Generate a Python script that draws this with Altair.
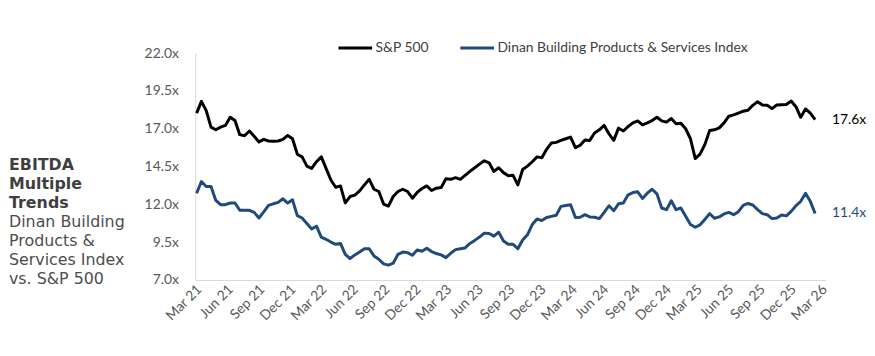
import altair as alt
import pandas as pd

series_names = ["S&P 500", "Dinan Building Products & Services Index"]
series_colors = ["#000000", "#1F4A7C"]

# biweekly observations starting 2021-03-05
start_date = "2021-03-05"
step_days = 14

sp500 = [
    18.03, 18.81, 18.20, 17.11, 16.93, 17.11, 17.22, 17.76, 17.54, 16.61, 16.54,
    16.85, 16.50, 16.13, 16.30, 16.19, 16.17, 16.19, 16.30, 16.56, 16.34, 15.32,
    15.14, 14.53, 14.38, 14.82, 15.14, 14.38, 13.61, 13.13, 13.22, 12.10, 12.52,
    12.61, 12.89, 13.29, 13.66, 13.00, 12.85, 12.02, 11.89, 12.52, 12.85, 13.00, 12.85,
    12.41, 12.79, 13.05, 13.22, 12.92, 13.07, 13.11, 13.70, 13.66, 13.77, 13.66,
    13.92, 14.18, 14.42, 14.66, 14.88, 14.75, 14.18, 14.42, 14.10, 13.90,
    13.92, 13.29, 14.31, 14.53, 14.82, 15.14, 15.08, 15.64, 16.06, 16.10, 16.23,
    16.34, 16.45, 15.75, 15.91, 16.26, 16.23, 16.72, 16.93, 17.22, 16.67, 16.23,
    17.04, 16.85, 17.15, 17.39, 17.52, 17.26, 17.39, 17.54, 17.76, 17.52, 17.44,
    17.68, 17.33, 17.37, 17.00, 16.34, 15.03, 15.32, 15.95, 16.89, 16.93, 17.06,
    17.39, 17.83, 17.92, 18.03, 18.16, 18.22, 18.55, 18.79, 18.57, 18.55, 18.33,
    18.57, 18.59, 18.61, 18.83, 18.46, 17.76, 18.31, 18.03, 17.60,
]

dinan = [
    12.74, 13.51, 13.18, 13.18, 12.26, 11.98, 11.98, 12.09, 12.09, 11.61, 11.61,
    11.61, 11.47, 11.10, 11.50, 11.93, 12.04, 12.13, 12.37, 12.09, 12.30, 11.26,
    11.10, 10.73, 10.38, 10.56, 9.84, 9.69, 9.51, 9.36, 9.42, 8.70, 8.42,
    8.66, 8.85, 9.07, 9.07, 8.59, 8.37, 8.07, 7.98, 8.11, 8.70, 8.85, 8.81,
    8.64, 8.99, 8.90, 9.10, 8.88, 8.75, 8.66, 8.48, 8.77, 9.01, 9.07,
    9.12, 9.42, 9.62, 9.84, 10.10, 10.08, 9.90, 10.16, 9.58, 9.36,
    9.36, 9.07, 9.64, 9.99, 10.67, 11.04, 10.93, 11.13, 11.21, 11.28, 11.87,
    11.93, 11.98, 11.13, 11.15, 11.32, 11.17, 11.15, 11.06, 11.47, 11.91, 11.58,
    12.04, 12.09, 12.63, 12.78, 12.83, 12.39, 12.74, 13.00, 12.70, 11.76, 11.65,
    12.24, 11.65, 11.76, 11.21, 10.67, 10.49, 10.65, 11.00, 11.39, 11.08, 11.17,
    11.37, 11.47, 11.32, 11.52, 11.93, 12.06, 11.96, 11.65, 11.39, 11.32, 11.06,
    11.10, 11.30, 11.24, 11.54, 11.91, 12.20, 12.74, 12.20, 11.40,
]

y_ticks = [7.0, 9.5, 12.0, 14.5, 17.0, 19.5, 22.0]
x_tick_months = [
    (2021, 3), (2021, 6), (2021, 9), (2021, 12),
    (2022, 3), (2022, 6), (2022, 9), (2022, 12),
    (2023, 3), (2023, 6), (2023, 9), (2023, 12),
    (2024, 3), (2024, 6), (2024, 9), (2024, 12),
    (2025, 3), (2025, 6), (2025, 9), (2025, 12),
    (2026, 3),
]
x_domain = [(2021, 3, 1), (2026, 3, 15)]

title_bold = ["EBITDA", "Multiple", "Trends"]
title_regular = ["Dinan Building", "Products &", "Services Index", "vs. S&P 500"]

dates = pd.date_range(start_date, periods=len(sp500), freq=f"{step_days}D")
df = pd.concat([
    pd.DataFrame({"date": dates, "value": sp500, "series": series_names[0]}),
    pd.DataFrame({"date": dates, "value": dinan, "series": series_names[1]}),
])
ends = pd.DataFrame({
    "date": [dates[-1], dates[-1]],
    "value": [sp500[-1], dinan[-1]],
    "series": series_names,
})

AX_FONT = "Lato"
TITLE_FONT = "DejaVu Sans"
x_scale = alt.Scale(domain=[alt.DateTime(year=y, month=m, date=d) for (y, m, d) in x_domain])
y_scale = alt.Scale(domain=[7, 22], nice=False, zero=False)
color_scale = alt.Scale(domain=series_names, range=series_colors)

x_enc = alt.X(
    "date:T", scale=x_scale, title=None,
    axis=alt.Axis(
        values=[alt.DateTime(year=y, month=m, date=1) for (y, m) in x_tick_months],
        tickCount=len(x_tick_months) + 5,
        format="%b %y", labelAngle=-45, labelAlign="right", labelBaseline="middle",
        labelPadding=7, labelOffset=4, ticks=False, grid=False, domainColor="#d9d9d9",
        labelFont=AX_FONT, labelFontSize=14, labelColor="#595959", labelOverlap=False,
    ),
)
y_enc = alt.Y(
    "value:Q", scale=y_scale, title=None,
    axis=alt.Axis(
        values=y_ticks, tickCount=len(y_ticks) + 5, labelOverlap=False,
        labelExpr="format(datum.value, '.1f') + 'x'",
        ticks=False, grid=False, domainColor="#d9d9d9", labelPadding=17,
        labelFont=AX_FONT, labelFontSize=14, labelColor="#595959",
    ),
)

lines = alt.Chart(df).mark_line(strokeWidth=3, strokeJoin="round").encode(
    x=x_enc, y=y_enc,
    color=alt.Color(
        "series:N", scale=color_scale,
        legend=alt.Legend(
            orient="none", legendX=143, legendY=-24, direction="horizontal", title=None,
            symbolType="stroke", symbolSize=1156, symbolStrokeWidth=3,
            labelFont=AX_FONT, labelFontSize=14, labelColor="#404040",
            labelOffset=2, columnPadding=25, labelLimit=400,
        ),
    ),
    detail="series:N",
)

end_labels = alt.Chart(ends).transform_calculate(
    label="format(datum.value, '.1f') + 'x'"
).mark_text(align="left", baseline="middle", dx=17, font=AX_FONT, fontSize=14).encode(
    x=alt.X("date:T", scale=x_scale),
    y=alt.Y("value:Q", scale=y_scale),
    text="label:N",
    color=alt.Color("series:N", scale=color_scale, legend=None),
)

anchor = pd.DataFrame({"k": [0]})
title_a = alt.Chart(anchor).mark_text(
    text=title_bold, align="left", baseline="alphabetic", font=TITLE_FONT,
    fontSize=16, fontWeight="bold", lineHeight=19.3, color="#3f3f3f",
).encode(x=alt.value(-188), y=alt.value(118))
title_b = alt.Chart(anchor).mark_text(
    text=title_regular, align="left", baseline="alphabetic", font=TITLE_FONT,
    fontSize=16, lineHeight=19.5, color="#4d4d4d",
).encode(x=alt.value(-188), y=alt.value(175))

chart = alt.layer(lines, end_labels, title_a, title_b).properties(
    width=636, height=229,
    autosize=alt.AutoSizeParams(type="none"),
    padding={"left": 189, "top": 44, "right": 42, "bottom": 60},
).configure_view(stroke=None)

chart.save("out.html", embed_options={"renderer": "svg", "actions": False})
